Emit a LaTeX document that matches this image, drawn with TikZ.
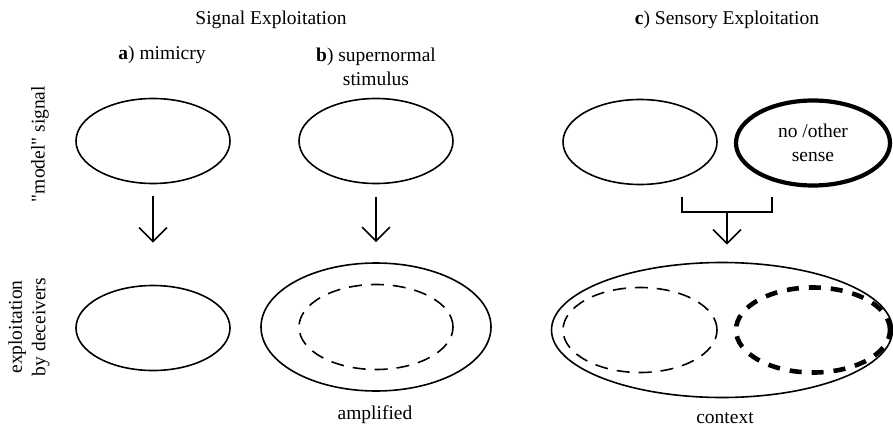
\documentclass[tikz,border=0pt]{standalone}
\usepackage{fontspec}
\setmainfont{Liberation Serif}
\usetikzlibrary{shapes.geometric,arrows.meta}
\begin{document}
\begin{tikzpicture}[x=1pt,y=-1pt,
  font=\fontsize{19.5}{23.5}\selectfont,
  oval/.style={draw, ellipse, inner sep=0pt, line width=1.6pt, minimum width=154pt, minimum height=85pt},
  thickoval/.style={oval, line width=4.2pt},
  dashoval/.style={oval, dash pattern=on 13pt off 9pt},
  thickdashoval/.style={oval, line width=4.6pt, dash pattern=on 12pt off 10pt},
  lbl/.style={inner sep=0pt, align=center},
  downarrow/.style={line width=1.6pt, -{Straight Barb[length=14pt,width=28pt]}}]
\useasboundingbox (0,0) rectangle (893,428);

% headings
\node[lbl] (hsig) at (271,20) {Signal Exploitation};
\node[lbl] (hsens) at (727,20) {\textbf{c}) Sensory Exploitation};
\node[lbl] (ha) at (162,55) {\textbf{a}) mimicry};
\node[lbl] (hb) at (376,67) {\textbf{b}) supernormal\\stimulus};

% row labels
\node[lbl, rotate=90] (rmodel) at (40,144) {\textquotedbl model\textquotedbl{} signal};
\node[lbl, rotate=90] (rexpl) at (29,327) {exploitation\\by deceivers};

% row 1
\node[oval] (a1) at (153,141) {};
\node[oval] (b1) at (376,141) {};
\node[oval] (c1) at (640,142) {};
\node[thickoval, align=center] (c2) at (813,143) {no /other\\sense};

% row 2
\node[oval] (a2) at (153,328) {};
\node[oval, minimum width=230pt, minimum height=128pt] (b2) at (376,327) {};
\node[dashoval] (b2in) at (376,327) {};
\node[oval, minimum width=341pt, minimum height=135pt] (c3) at (722,330) {};
\node[dashoval] (c3l) at (640,330) {};
\node[thickdashoval] (c3r) at (813,330) {};

% captions
\node[lbl] (amp) at (375,415) {amplified};
\node[lbl] (ctx) at (725,418) {context};

% arrows
\draw[downarrow, shorten <=12pt, shorten >=42pt] (a1.south) -- (a2.north);
\draw[downarrow, shorten <=13pt, shorten >=20pt] (b1.south) -- (b2.north);

% bracket
\coordinate (brl) at (682,197);
\coordinate (brr) at (772,197);
\coordinate (brm) at (727,212);
\draw[line width=1.6pt] (brl) -- (brl |- brm) -- (brr |- brm) -- (brr);
\draw[downarrow, shorten >=17pt] (brm) -- (c3.north -| brm);
\end{tikzpicture}
\end{document}
